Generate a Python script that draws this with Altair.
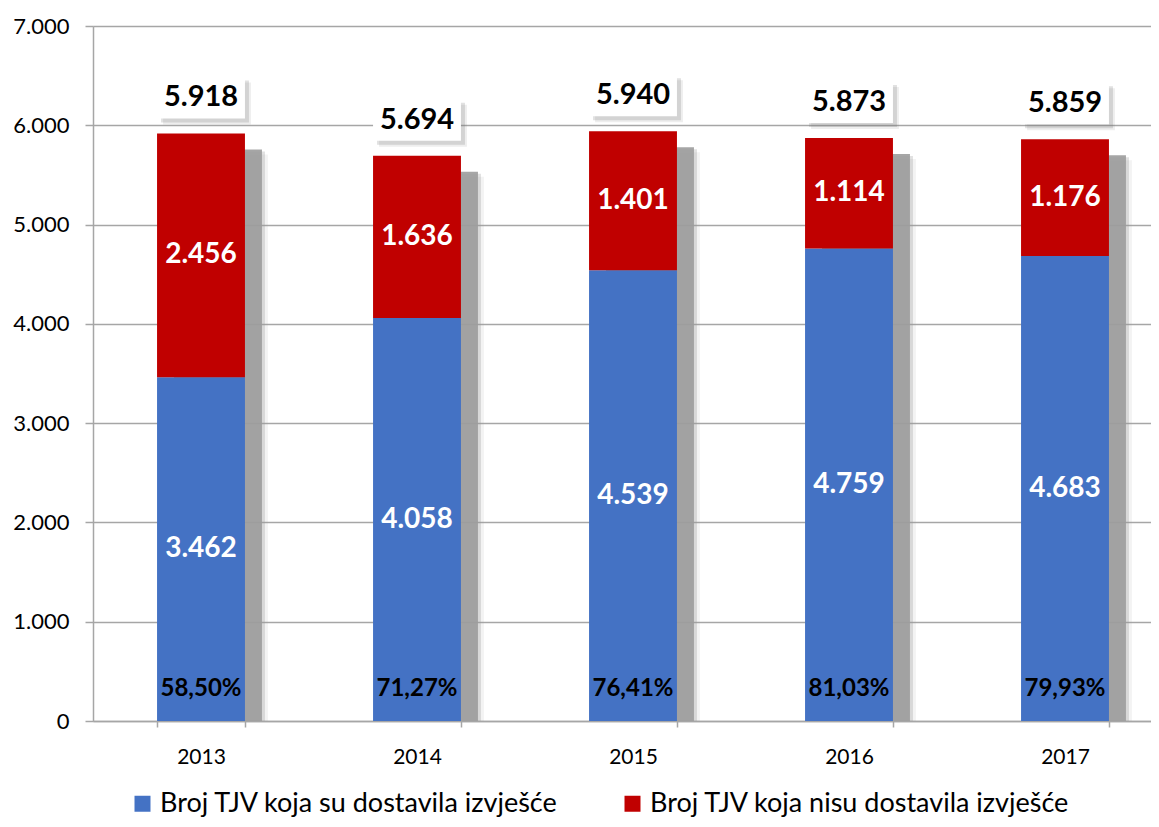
import altair as alt
import pandas as pd

years = ["2013", "2014", "2015", "2016", "2017"]
submitted = [3462, 4058, 4539, 4759, 4683]
not_submitted = [2456, 1636, 1401, 1114, 1176]
totals = [5918, 5694, 5940, 5873, 5859]
percents = [58.50, 71.27, 76.41, 81.03, 79.93]

series_names = ["Broj TJV koja su dostavila izvješće", "Broj TJV koja nisu dostavila izvješće"]
series_colors = ["#4472C4", "#C00000"]

FONT = "Lato"

wide = pd.DataFrame({
    "year": years,
    "sub": submitted,
    "nsub": not_submitted,
    "total": totals,
    "pct": percents,
})

long_rows = []
for i, y in enumerate(years):
    long_rows.append({"year": y, "series": series_names[0], "value": submitted[i], "ord": 0})
    long_rows.append({"year": y, "series": series_names[1], "value": not_submitted[i], "ord": 1})
long = pd.DataFrame(long_rows)

xscale = alt.Scale(domain=years, range=[0, 1080], paddingInner=0.593, paddingOuter=0.2965)
yscale = alt.Scale(domain=[0, 7000])

xaxis = alt.Axis(title=None, labelAngle=0, labelFontSize=21, labelColor="#000000",
                 labelFont=FONT, labelPadding=19, tickBand="extent", tickSize=6,
                 tickColor="#a6a6a6", domainColor="#a6a6a6", domainWidth=1.5,
                 tickWidth=1.5, grid=False)

yaxis = alt.Axis(title=None, values=[0, 1000, 2000, 3000, 4000, 5000, 6000, 7000],
                 labelExpr="replace(format(datum.value, ','), ',', '.')",
                 labelFontSize=22, labelFont=FONT, labelColor="#000000", labelPadding=16,
                 tickSize=8, tickColor="#a6a6a6", tickWidth=1.5,
                 domainColor="#a6a6a6", domainWidth=1.5,
                 grid=True, gridColor="#a6a6a6", gridWidth=1.5)


def X():
    return alt.X("year:N", scale=xscale, sort=years, axis=xaxis)


def Y(field, **kw):
    return alt.Y(field, scale=yscale, axis=yaxis, **kw)


base = alt.Chart(wide)

# Bar shadows (soft, offset right/down)
shadow_layers = []
for dx, dy, op in [(23, 21, 0.12), (20, 18, 0.3), (17, 16, 0.9)]:
    shadow_layers.append(
        base.mark_bar(color="#9c9c9c", opacity=op, xOffset=dx, yOffset=dy, y2Offset=0).encode(
            x=X(), y=Y("total:Q"), y2=alt.datum(0)
        )
    )

bars = alt.Chart(long).mark_bar().encode(
    x=X(),
    y=Y("value:Q", stack="zero"),
    color=alt.Color("series:N", sort=series_names,
                    scale=alt.Scale(domain=series_names, range=series_colors),
                    legend=alt.Legend(title=None, orient="none", direction="horizontal",
                                      legendX=36, legendY=764, symbolType="square",
                                      symbolSize=256, symbolStrokeWidth=0,
                                      labelFontSize=27, labelFont=FONT, labelColor="#000000",
                                      labelOffset=4, columnPadding=60, padding=0,
                                      labelLimit=0)),
    order=alt.Order("ord:Q"),
)

# Total label boxes with soft shadow
box_shadows = []
for dx, dy, op in [(6, 6, 0.12), (4, 4, 0.22)]:
    box_shadows.append(
        base.mark_bar(color="#777777", opacity=op, xOffset=dx, yOffset=-57 + dy, y2Offset=-15 + dy).encode(
            x=X(), y=Y("total:Q"), y2=alt.Y2("total:Q")
        )
    )
box = base.mark_bar(color="#ffffff", yOffset=-57, y2Offset=-15).encode(
    x=X(), y=Y("total:Q"), y2=alt.Y2("total:Q")
)
total_text = base.transform_calculate(
    lbl="replace(format(datum.total, ','), ',', '.')"
).mark_text(font=FONT, fontSize=29, fontWeight="bold", color="#000000", dy=-36, baseline="middle").encode(
    x=X(), y=Y("total:Q"), text="lbl:N"
)

sub_text = base.transform_calculate(
    mid="datum.sub / 2",
    lbl="replace(format(datum.sub, ','), ',', '.')"
).mark_text(font=FONT, fontSize=28, fontWeight="bold", color="#ffffff", baseline="middle").encode(
    x=X(), y=Y("mid:Q"), text="lbl:N"
)

nsub_text = base.transform_calculate(
    mid="datum.sub + datum.nsub / 2",
    lbl="replace(format(datum.nsub, ','), ',', '.')"
).mark_text(font=FONT, fontSize=28, fontWeight="bold", color="#ffffff", baseline="middle").encode(
    x=X(), y=Y("mid:Q"), text="lbl:N"
)

pct_text = base.transform_calculate(
    lbl="replace(format(datum.pct, '.2f'), '.', ',') + '%'"
).mark_text(font=FONT, fontSize=24, fontWeight="bold", color="#000000", baseline="middle", dy=-32).encode(
    x=X(), y=alt.Y(datum=0, scale=yscale, axis=yaxis), text="lbl:N"
)

chart = alt.layer(
    *shadow_layers, bars, *box_shadows, box, total_text, sub_text, nsub_text, pct_text
).properties(
    width=1058, height=695,
    autosize=alt.AutoSizeParams(type="none"),
    padding={"left": 85, "top": 18, "right": 0, "bottom": 98},
).configure_view(strokeWidth=0).configure(font=FONT)

chart.save("out.html", embed_options={"renderer": "svg", "actions": False})
